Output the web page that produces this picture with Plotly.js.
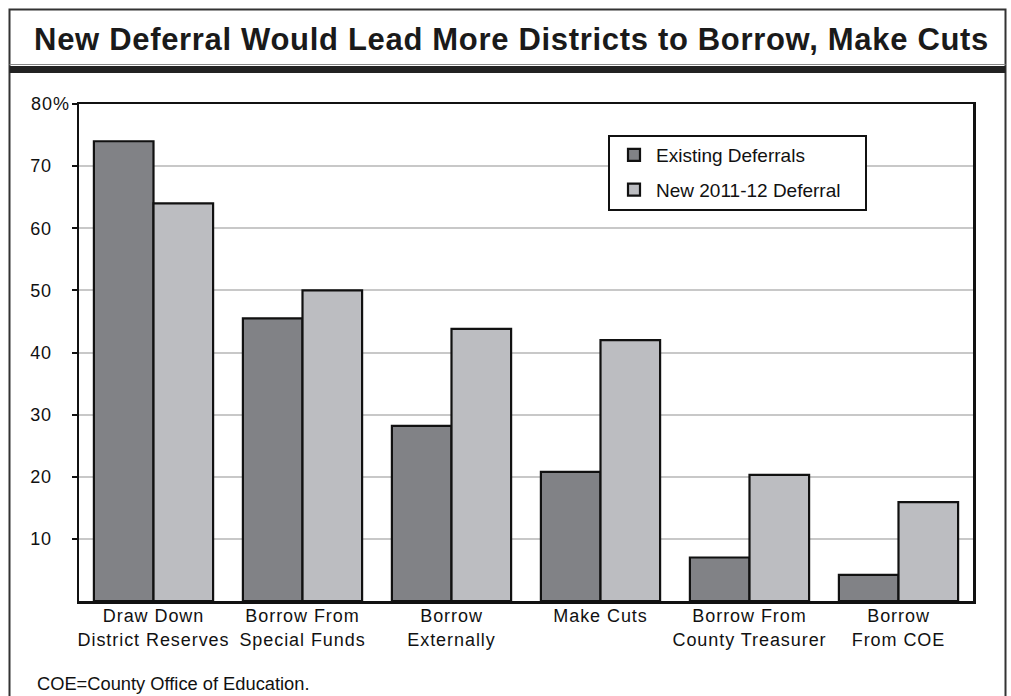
<!DOCTYPE html>
<html>
<head>
<meta charset="utf-8">
<script src="https://cdn.plot.ly/plotly-3.0.1.min.js"></script>
<style>
html,body{margin:0;padding:0;background:#fff;}
#chart{width:1011px;height:696px;}
#chart .xtick text, #chart .ytick text{letter-spacing:0.052em;}
#chart .gtitle{letter-spacing:0.022em;}
</style>
</head>
<body>
<div id="chart"></div>
<script>
const categories = [
  "Draw Down<br>District Reserves",
  "Borrow From<br>Special Funds",
  "Borrow<br>Externally",
  "Make Cuts",
  "Borrow From<br>County Treasurer",
  "Borrow<br>From COE"
];
const existingDeferrals = [74, 45.5, 28.2, 20.8, 7, 4.2];
const newDeferral = [64, 50, 43.8, 42, 20.3, 15.9];
const seriesNames = ["Existing Deferrals", "New 2011-12 Deferral"];
const yTickVals = [10, 20, 30, 40, 50, 60, 70, 80];
const yTickText = ["10", "20", "30", "40", "50", "60", "70", "80%"];

const FONT = '"Liberation Sans", Arial, Helvetica, sans-serif';
const pad = '\u00a0\u00a0\u00a0';

// plot box in pixels
const L = 79, R = 973, T = 104, B = 601, W = 1011, H = 696;
const pw = R - L, ph = B - T;
const px = x => (x - L) / pw;
const py = y => (B - y) / ph;

const traces = [
  {
    type: 'bar', name: seriesNames[0], x: categories, y: existingDeferrals,
    marker: {color: '#818286', line: {color: '#111', width: 2.2}},
    legendgroup: 'a', hoverinfo: 'y'
  },
  {
    type: 'bar', name: seriesNames[1], x: categories, y: newDeferral,
    marker: {color: '#bcbdc1', line: {color: '#111', width: 2.2}},
    legendgroup: 'b', hoverinfo: 'y'
  }
];

const layout = {
  width: W, height: H,
  margin: {l: L, r: W - R, t: T, b: H - B},
  paper_bgcolor: '#fff', plot_bgcolor: '#fff',
  font: {family: FONT, color: '#111', size: 18},
  title: {
    text: '<b>New Deferral Would Lead More Districts to Borrow, Make Cuts</b>',
    font: {family: FONT, size: 31, color: '#1a1a1a'},
    x: 0.506, xref: 'container', xanchor: 'center',
    y: 1 - 39 / H, yref: 'container', yanchor: 'middle'
  },
  barmode: 'group', bargap: 0.2, bargroupgap: 0,
  showlegend: true,
  legend: {
    x: px(612), y: py(136), xanchor: 'left', yanchor: 'top',
    bgcolor: 'rgba(0,0,0,0)', borderwidth: 0,
    font: {family: FONT, size: 19, color: '#111'},
    tracegroupgap: 7, traceorder: 'grouped', itemwidth: 34
  },
  xaxis: {
    showline: true, linecolor: '#111', linewidth: 2.5, mirror: true,
    ticks: '', showgrid: false, fixedrange: true, ticklabelstandoff: -3,
    tickfont: {family: FONT, size: 18, color: '#111'}
  },
  yaxis: {
    range: [0, 80], tickmode: 'array', tickvals: yTickVals,
    ticktext: yTickText.map(t => t.endsWith('%') ? t : t + pad),
    showline: true, linecolor: '#111', linewidth: 2.5, mirror: true,
    ticks: 'outside', ticklen: 5, tickwidth: 2, tickcolor: '#111',
    showgrid: true, gridcolor: '#c8c8c8', gridwidth: 2,
    zeroline: false, fixedrange: true, ticklabelstandoff: -2,
    tickfont: {family: FONT, size: 18, color: '#111'}
  },
  shapes: [
    {type: 'rect', xref: 'paper', yref: 'paper',
     x0: px(9.5), x1: px(1005.5), y0: py(720), y1: py(9.5),
     line: {color: '#333', width: 2}, fillcolor: 'rgba(0,0,0,0)', layer: 'below'},
    {type: 'line', xref: 'paper', yref: 'paper',
     x0: px(9.5), x1: px(1005.5), y0: py(64.5), y1: py(64.5),
     line: {color: '#888', width: 1}},
    {type: 'line', xref: 'paper', yref: 'paper',
     x0: px(9.5), x1: px(1005.5), y0: py(69.5), y1: py(69.5),
     line: {color: '#222', width: 7}},
    {type: 'rect', xref: 'paper', yref: 'paper', layer: 'above',
     x0: px(609), x1: px(866), y0: py(210), y1: py(136),
     line: {color: '#111', width: 2}, fillcolor: '#fff'}
  ],
  annotations: [
    {text: 'COE=County Office of Education.', xref: 'paper', yref: 'paper',
     x: px(35), y: py(683), xanchor: 'left', yanchor: 'middle', showarrow: false,
     font: {family: FONT, size: 18.3, color: '#111'}}
  ]
};

Plotly.newPlot('chart', traces, layout, {displayModeBar: false, staticPlot: true});
</script>
</body>
</html>
